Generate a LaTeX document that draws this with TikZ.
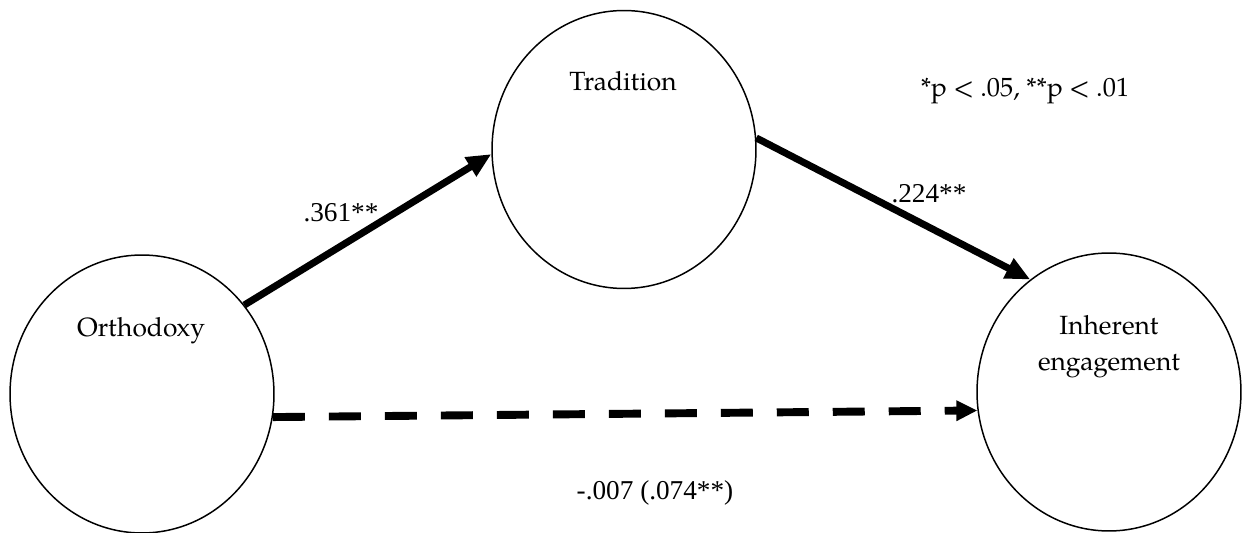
\documentclass[tikz,border=0pt]{standalone}
\usepackage{fontspec}
\setmainfont{texgyrepagella}[Extension=.otf,UprightFont=*-regular,BoldFont=*-bold,ItalicFont=*-italic]
\newfontfamily\numf{Liberation Serif}
\usetikzlibrary{shapes.geometric,arrows.meta}
\begin{document}
\begin{tikzpicture}[x=0.02cm,y=-0.02cm,
  var/.style={draw,ellipse,line width=0.85pt,minimum width=5.28cm,minimum height=5.56cm,inner sep=0pt},
  lbl/.style={anchor=base,font=\fontsize{15}{18}\selectfont,inner sep=0pt},
  coef/.style={anchor=base,font=\numf\fontsize{15.5}{18}\selectfont,inner sep=0pt},
  path/.style={line width=4pt,-{Triangle[length=14pt,width=12pt]}},
  dpath/.style={line width=4.5pt,dash pattern=on 0.64cm off 0.48cm,-{Triangle[length=12pt,width=11pt]}}]
\useasboundingbox (0,0) rectangle (1242,533);
\node[var] (orth) at (142,394) {};
\node[var] (trad) at (624,149.5) {};
\node[var] (inh) at (1109,392) {};
\node[lbl] (torth) at (141,337) {Orthodoxy};
\node[lbl] (ttrad) at (623,91) {Tradition};
\node[lbl] (tinh1) at (1109,335) {Inherent};
\node[lbl] (tinh2) at (1109,371) {engagement};
\draw[path] (orth.41.7) -- (trad.182.4);
\draw[path] (trad.5.4) -- (inh.125.2);
\draw[dpath] (orth.-10.3) -- (inh.188.6);
\node[coef] (c1) at (341,222) {.361**};
\node[coef] (c2) at (929,203) {.224**};
\node[coef] (c3) at (655,500) {-.007 (.074**)};
\node[lbl] (note) at (1025,97) {*p < .05, **p < .01};
\end{tikzpicture}
\end{document}
